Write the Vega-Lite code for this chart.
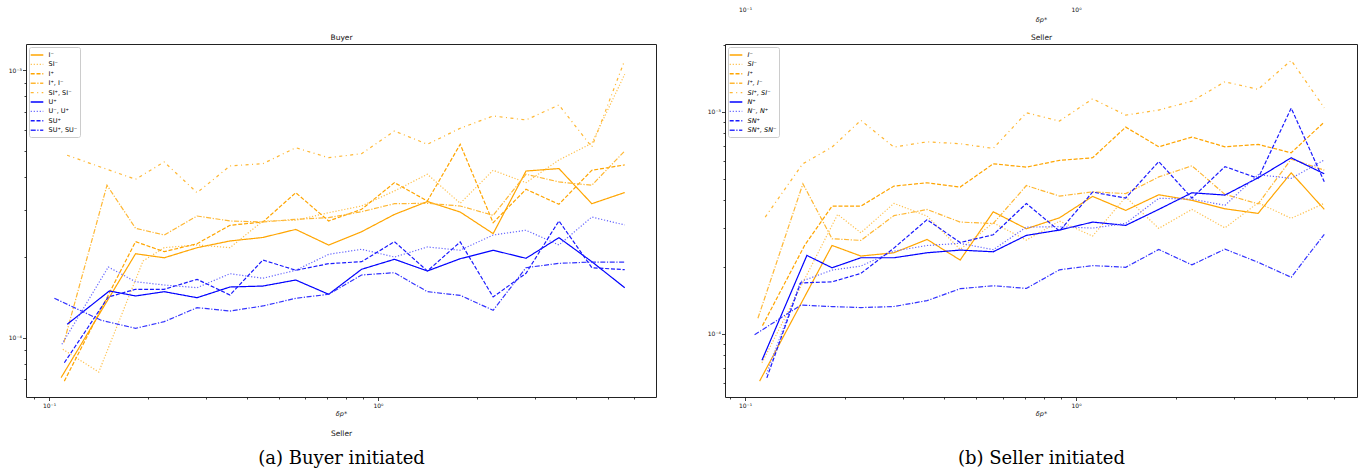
{
  "$schema": "https://vega.github.io/schema/vega-lite/v6.json",
  "background": "white",
  "padding": {"left": 7, "top": 5, "right": 0, "bottom": 0},
  "bounds": "flush",
  "spacing": 69,
  "datasets": {
    "buyer": [
      {"s":"I⁻","x":0.1088,"y":7.09e-5},{"s":"I⁻","x":0.1832,"y":2.06e-4},{"s":"I⁻","x":0.2239,"y":1.99e-4},{"s":"I⁻","x":0.2818,"y":2.17e-4},{"s":"I⁻","x":0.3548,"y":2.30e-4},{"s":"I⁻","x":0.4467,"y":2.37e-4},{"s":"I⁻","x":0.5623,"y":2.54e-4},{"s":"I⁻","x":0.7079,"y":2.22e-4},{"s":"I⁻","x":0.8913,"y":2.49e-4},{"s":"I⁻","x":1.122,"y":2.89e-4},{"s":"I⁻","x":1.413,"y":3.23e-4},{"s":"I⁻","x":1.778,"y":2.95e-4},{"s":"I⁻","x":2.239,"y":2.45e-4},{"s":"I⁻","x":2.818,"y":4.20e-4},{"s":"I⁻","x":3.548,"y":4.29e-4},{"s":"I⁻","x":4.467,"y":3.17e-4},{"s":"I⁻","x":5.623,"y":3.49e-4},
      {"s":"SI⁻","x":0.1101,"y":9.05e-5},{"s":"SI⁻","x":0.1416,"y":7.44e-5},{"s":"SI⁻","x":0.1931,"y":1.936e-4},{"s":"SI⁻","x":0.2239,"y":2.171e-4},{"s":"SI⁻","x":0.2818,"y":2.222e-4},{"s":"SI⁻","x":0.3548,"y":2.171e-4},{"s":"SI⁻","x":0.4467,"y":2.732e-4},{"s":"SI⁻","x":0.5623,"y":2.748e-4},{"s":"SI⁻","x":0.7079,"y":2.934e-4},{"s":"SI⁻","x":0.8913,"y":3.108e-4},{"s":"SI⁻","x":1.122,"y":3.537e-4},{"s":"SI⁻","x":1.413,"y":4.085e-4},{"s":"SI⁻","x":1.778,"y":3.181e-4},{"s":"SI⁻","x":2.239,"y":4.227e-4},{"s":"SI⁻","x":2.818,"y":3.8e-4},{"s":"SI⁻","x":3.548,"y":4.62e-4},{"s":"SI⁻","x":4.467,"y":5.333e-4},{"s":"SI⁻","x":5.623,"y":9.66e-4},
      {"s":"I⁺","x":0.1113,"y":6.88e-5},{"s":"I⁺","x":0.1832,"y":2.286e-4},{"s":"I⁺","x":0.2239,"y":2.097e-4},{"s":"I⁺","x":0.2818,"y":2.246e-4},{"s":"I⁺","x":0.3548,"y":2.632e-4},{"s":"I⁺","x":0.4467,"y":2.708e-4},{"s":"I⁺","x":0.5623,"y":3.485e-4},{"s":"I⁺","x":0.7079,"y":2.732e-4},{"s":"I⁺","x":0.8913,"y":3.02e-4},{"s":"I⁺","x":1.122,"y":3.8e-4},{"s":"I⁺","x":1.413,"y":3.245e-4},{"s":"I⁺","x":1.778,"y":5.288e-4},{"s":"I⁺","x":2.239,"y":2.692e-4},{"s":"I⁺","x":2.818,"y":3.589e-4},{"s":"I⁺","x":3.548,"y":3.155e-4},{"s":"I⁺","x":4.467,"y":4.227e-4},{"s":"I⁺","x":5.623,"y":4.426e-4},
      {"s":"I⁺, I⁻","x":0.1109,"y":9.58e-5},{"s":"I⁺, I⁻","x":0.15,"y":3.715e-4},{"s":"I⁺, I⁻","x":0.1832,"y":2.565e-4},{"s":"I⁺, I⁻","x":0.2239,"y":2.421e-4},{"s":"I⁺, I⁻","x":0.2818,"y":2.851e-4},{"s":"I⁺, I⁻","x":0.3548,"y":2.732e-4},{"s":"I⁺, I⁻","x":0.4467,"y":2.708e-4},{"s":"I⁺, I⁻","x":0.5623,"y":2.772e-4},{"s":"I⁺, I⁻","x":0.7079,"y":2.81e-4},{"s":"I⁺, I⁻","x":0.8913,"y":2.959e-4},{"s":"I⁺, I⁻","x":1.122,"y":3.17e-4},{"s":"I⁺, I⁻","x":1.413,"y":3.181e-4},{"s":"I⁺, I⁻","x":1.778,"y":3.108e-4},{"s":"I⁺, I⁻","x":2.239,"y":2.868e-4},{"s":"I⁺, I⁻","x":2.818,"y":4.085e-4},{"s":"I⁺, I⁻","x":3.548,"y":3.823e-4},{"s":"I⁺, I⁻","x":4.467,"y":3.715e-4},{"s":"I⁺, I⁻","x":5.623,"y":4.991e-4},
      {"s":"SI⁺, SI⁻","x":0.1135,"y":4.81e-4},{"s":"SI⁺, SI⁻","x":0.15,"y":4.264e-4},{"s":"SI⁺, SI⁻","x":0.1832,"y":3.912e-4},{"s":"SI⁺, SI⁻","x":0.2239,"y":4.541e-4},{"s":"SI⁺, SI⁻","x":0.2818,"y":3.485e-4},{"s":"SI⁺, SI⁻","x":0.3548,"y":4.387e-4},{"s":"SI⁺, SI⁻","x":0.4467,"y":4.474e-4},{"s":"SI⁺, SI⁻","x":0.5623,"y":5.134e-4},{"s":"SI⁺, SI⁻","x":0.7079,"y":4.711e-4},{"s":"SI⁺, SI⁻","x":0.8913,"y":4.877e-4},{"s":"SI⁺, SI⁻","x":1.122,"y":5.929e-4},{"s":"SI⁺, SI⁻","x":1.413,"y":5.288e-4},{"s":"SI⁺, SI⁻","x":1.778,"y":6.069e-4},{"s":"SI⁺, SI⁻","x":2.239,"y":6.748e-4},{"s":"SI⁺, SI⁻","x":2.818,"y":6.519e-4},{"s":"SI⁺, SI⁻","x":3.548,"y":7.417e-4},{"s":"SI⁺, SI⁻","x":4.467,"y":5.166e-4},{"s":"SI⁺, SI⁻","x":5.623,"y":1.09e-3},
      {"s":"U⁺","x":0.1135,"y":1.122e-4},{"s":"U⁺","x":0.1525,"y":1.495e-4},{"s":"U⁺","x":0.1832,"y":1.432e-4},{"s":"U⁺","x":0.2239,"y":1.486e-4},{"s":"U⁺","x":0.2818,"y":1.411e-4},{"s":"U⁺","x":0.3548,"y":1.547e-4},{"s":"U⁺","x":0.4467,"y":1.56e-4},{"s":"U⁺","x":0.5623,"y":1.643e-4},{"s":"U⁺","x":0.7079,"y":1.453e-4},{"s":"U⁺","x":0.8913,"y":1.802e-4},{"s":"U⁺","x":1.122,"y":1.964e-4},{"s":"U⁺","x":1.413,"y":1.776e-4},{"s":"U⁺","x":1.778,"y":1.974e-4},{"s":"U⁺","x":2.239,"y":2.123e-4},{"s":"U⁺","x":2.818,"y":1.981e-4},{"s":"U⁺","x":3.548,"y":2.366e-4},{"s":"U⁺","x":4.467,"y":1.924e-4},{"s":"U⁺","x":5.623,"y":1.538e-4},
      {"s":"U⁻, U⁺","x":0.1094,"y":9.45e-5},{"s":"U⁻, U⁺","x":0.1514,"y":1.838e-4},{"s":"U⁻, U⁺","x":0.1832,"y":1.619e-4},{"s":"U⁻, U⁺","x":0.2239,"y":1.574e-4},{"s":"U⁻, U⁺","x":0.2818,"y":1.538e-4},{"s":"U⁻, U⁺","x":0.3548,"y":1.735e-4},{"s":"U⁻, U⁺","x":0.4467,"y":1.668e-4},{"s":"U⁻, U⁺","x":0.5623,"y":1.787e-4},{"s":"U⁻, U⁺","x":0.7079,"y":2.05e-4},{"s":"U⁻, U⁺","x":0.8913,"y":2.141e-4},{"s":"U⁻, U⁺","x":1.122,"y":2.003e-4},{"s":"U⁻, U⁺","x":1.413,"y":2.184e-4},{"s":"U⁻, U⁺","x":1.778,"y":2.123e-4},{"s":"U⁻, U⁺","x":2.239,"y":2.421e-4},{"s":"U⁻, U⁺","x":2.818,"y":2.522e-4},{"s":"U⁻, U⁺","x":3.548,"y":2.222e-4},{"s":"U⁻, U⁺","x":4.467,"y":2.826e-4},{"s":"U⁻, U⁺","x":5.623,"y":2.64e-4},
      {"s":"SU⁺","x":0.1113,"y":8.06e-5},{"s":"SU⁺","x":0.1514,"y":1.42e-4},{"s":"SU⁺","x":0.1832,"y":1.517e-4},{"s":"SU⁺","x":0.2239,"y":1.517e-4},{"s":"SU⁺","x":0.2818,"y":1.653e-4},{"s":"SU⁺","x":0.3548,"y":1.444e-4},{"s":"SU⁺","x":0.4467,"y":1.952e-4},{"s":"SU⁺","x":0.5623,"y":1.787e-4},{"s":"SU⁺","x":0.7079,"y":1.891e-4},{"s":"SU⁺","x":0.8913,"y":1.924e-4},{"s":"SU⁺","x":1.122,"y":2.286e-4},{"s":"SU⁺","x":1.413,"y":1.776e-4},{"s":"SU⁺","x":1.778,"y":2.28e-4},{"s":"SU⁺","x":2.239,"y":1.42e-4},{"s":"SU⁺","x":2.818,"y":1.741e-4},{"s":"SU⁺","x":3.548,"y":2.732e-4},{"s":"SU⁺","x":4.467,"y":1.827e-4},{"s":"SU⁺","x":5.623,"y":1.796e-4},
      {"s":"SU⁺, SU⁻","x":0.1038,"y":1.404e-4},{"s":"SU⁺, SU⁻","x":0.1439,"y":1.162e-4},{"s":"SU⁺, SU⁻","x":0.1832,"y":1.084e-4},{"s":"SU⁺, SU⁻","x":0.2239,"y":1.148e-4},{"s":"SU⁺, SU⁻","x":0.2818,"y":1.295e-4},{"s":"SU⁺, SU⁻","x":0.3548,"y":1.258e-4},{"s":"SU⁺, SU⁻","x":0.4467,"y":1.314e-4},{"s":"SU⁺, SU⁻","x":0.5623,"y":1.404e-4},{"s":"SU⁺, SU⁻","x":0.7079,"y":1.453e-4},{"s":"SU⁺, SU⁻","x":0.8913,"y":1.716e-4},{"s":"SU⁺, SU⁻","x":1.122,"y":1.75e-4},{"s":"SU⁺, SU⁻","x":1.413,"y":1.486e-4},{"s":"SU⁺, SU⁻","x":1.778,"y":1.44e-4},{"s":"SU⁺, SU⁻","x":2.239,"y":1.266e-4},{"s":"SU⁺, SU⁻","x":2.818,"y":1.827e-4},{"s":"SU⁺, SU⁻","x":3.548,"y":1.897e-4},{"s":"SU⁺, SU⁻","x":4.467,"y":1.918e-4},{"s":"SU⁺, SU⁻","x":5.623,"y":1.918e-4}
    ],
    "seller": [
      {"s":"I⁻","x":0.1107,"y":6.12e-5},{"s":"I⁻","x":0.1832,"y":2.50e-4},{"s":"I⁻","x":0.2239,"y":2.239e-4},{"s":"I⁻","x":0.2818,"y":2.317e-4},{"s":"I⁻","x":0.3548,"y":2.661e-4},{"s":"I⁻","x":0.4467,"y":2.148e-4},{"s":"I⁻","x":0.5623,"y":3.544e-4},{"s":"I⁻","x":0.7079,"y":2.972e-4},{"s":"I⁻","x":0.8913,"y":3.33e-4},{"s":"I⁻","x":1.122,"y":4.159e-4},{"s":"I⁻","x":1.413,"y":3.596e-4},{"s":"I⁻","x":1.778,"y":4.228e-4},{"s":"I⁻","x":2.239,"y":3.99e-4},{"s":"I⁻","x":2.818,"y":3.656e-4},{"s":"I⁻","x":3.548,"y":3.485e-4},{"s":"I⁻","x":4.467,"y":5.31e-4},{"s":"I⁻","x":5.623,"y":3.634e-4},
      {"s":"SI⁻","x":0.1125,"y":7.40e-5},{"s":"SI⁻","x":0.1905,"y":3.45e-4},{"s":"SI⁻","x":0.2239,"y":2.851e-4},{"s":"SI⁻","x":0.2818,"y":3.868e-4},{"s":"SI⁻","x":0.3548,"y":3.39e-4},{"s":"SI⁻","x":0.4467,"y":2.40e-4},{"s":"SI⁻","x":0.5623,"y":3.162e-4},{"s":"SI⁻","x":0.7079,"y":2.642e-4},{"s":"SI⁻","x":0.8913,"y":3.219e-4},{"s":"SI⁻","x":1.122,"y":2.755e-4},{"s":"SI⁻","x":1.413,"y":4.129e-4},{"s":"SI⁻","x":1.778,"y":2.984e-4},{"s":"SI⁻","x":2.239,"y":3.634e-4},{"s":"SI⁻","x":2.818,"y":3.0e-4},{"s":"SI⁻","x":3.548,"y":3.892e-4},{"s":"SI⁻","x":4.467,"y":3.31e-4},{"s":"SI⁻","x":5.623,"y":3.868e-4},
      {"s":"I⁺","x":0.1129,"y":1.088e-4},{"s":"I⁺","x":0.1517,"y":2.515e-4},{"s":"I⁺","x":0.1832,"y":3.759e-4},{"s":"I⁺","x":0.2239,"y":3.759e-4},{"s":"I⁺","x":0.2818,"y":4.627e-4},{"s":"I⁺","x":0.3548,"y":4.789e-4},{"s":"I⁺","x":0.4467,"y":4.58e-4},{"s":"I⁺","x":0.5623,"y":5.83e-4},{"s":"I⁺","x":0.7079,"y":5.634e-4},{"s":"I⁺","x":0.8913,"y":6.04e-4},{"s":"I⁺","x":1.122,"y":6.205e-4},{"s":"I⁺","x":1.413,"y":8.53e-4},{"s":"I⁺","x":1.778,"y":6.955e-4},{"s":"I⁺","x":2.239,"y":7.69e-4},{"s":"I⁺","x":2.818,"y":6.955e-4},{"s":"I⁺","x":3.548,"y":7.13e-4},{"s":"I⁺","x":4.467,"y":6.535e-4},{"s":"I⁺","x":5.623,"y":8.99e-4},
      {"s":"I⁺, I⁻","x":0.1094,"y":1.174e-4},{"s":"I⁺, I⁻","x":0.1496,"y":4.74e-4},{"s":"I⁺, I⁻","x":0.1832,"y":2.679e-4},{"s":"I⁺, I⁻","x":0.2239,"y":2.634e-4},{"s":"I⁺, I⁻","x":0.2818,"y":3.406e-4},{"s":"I⁺, I⁻","x":0.3548,"y":3.63e-4},{"s":"I⁺, I⁻","x":0.4467,"y":3.185e-4},{"s":"I⁺, I⁻","x":0.5623,"y":3.139e-4},{"s":"I⁺, I⁻","x":0.7079,"y":4.652e-4},{"s":"I⁺, I⁻","x":0.8913,"y":4.172e-4},{"s":"I⁺, I⁻","x":1.122,"y":4.357e-4},{"s":"I⁺, I⁻","x":1.413,"y":4.281e-4},{"s":"I⁺, I⁻","x":1.778,"y":5.088e-4},{"s":"I⁺, I⁻","x":2.239,"y":5.711e-4},{"s":"I⁺, I⁻","x":2.818,"y":4.246e-4},{"s":"I⁺, I⁻","x":3.548,"y":3.847e-4},{"s":"I⁺, I⁻","x":4.467,"y":6.12e-4},{"s":"I⁺, I⁻","x":5.623,"y":5.46e-4},
      {"s":"SI⁺, SI⁻","x":0.1151,"y":3.355e-4},{"s":"SI⁺, SI⁻","x":0.1494,"y":5.83e-4},{"s":"SI⁺, SI⁻","x":0.1832,"y":6.93e-4},{"s":"SI⁺, SI⁻","x":0.2239,"y":9.15e-4},{"s":"SI⁺, SI⁻","x":0.2818,"y":6.93e-4},{"s":"SI⁺, SI⁻","x":0.3548,"y":7.32e-4},{"s":"SI⁺, SI⁻","x":0.4467,"y":7.18e-4},{"s":"SI⁺, SI⁻","x":0.5623,"y":6.84e-4},{"s":"SI⁺, SI⁻","x":0.7079,"y":9.9e-4},{"s":"SI⁺, SI⁻","x":0.8913,"y":9.08e-4},{"s":"SI⁺, SI⁻","x":1.122,"y":1.144e-3},{"s":"SI⁺, SI⁻","x":1.413,"y":9.66e-4},{"s":"SI⁺, SI⁻","x":1.778,"y":1.018e-3},{"s":"SI⁺, SI⁻","x":2.239,"y":1.117e-3},{"s":"SI⁺, SI⁻","x":2.818,"y":1.365e-3},{"s":"SI⁺, SI⁻","x":3.548,"y":1.262e-3},{"s":"SI⁺, SI⁻","x":4.467,"y":1.704e-3},{"s":"SI⁺, SI⁻","x":5.623,"y":1.042e-3},
      {"s":"N⁺","x":0.1125,"y":7.59e-5},{"s":"N⁺","x":0.1538,"y":2.254e-4},{"s":"N⁺","x":0.1832,"y":1.983e-4},{"s":"N⁺","x":0.2239,"y":2.2e-4},{"s":"N⁺","x":0.2818,"y":2.2e-4},{"s":"N⁺","x":0.3548,"y":2.317e-4},{"s":"N⁺","x":0.4467,"y":2.382e-4},{"s":"N⁺","x":0.5623,"y":2.341e-4},{"s":"N⁺","x":0.7079,"y":2.775e-4},{"s":"N⁺","x":0.8913,"y":2.932e-4},{"s":"N⁺","x":1.122,"y":3.185e-4},{"s":"N⁺","x":1.413,"y":3.078e-4},{"s":"N⁺","x":1.778,"y":3.634e-4},{"s":"N⁺","x":2.239,"y":4.316e-4},{"s":"N⁺","x":2.818,"y":4.215e-4},{"s":"N⁺","x":3.548,"y":5.041e-4},{"s":"N⁺","x":4.467,"y":6.205e-4},{"s":"N⁺","x":5.623,"y":5.256e-4},
      {"s":"N⁻, N⁺","x":0.1161,"y":6.58e-5},{"s":"N⁻, N⁺","x":0.1472,"y":1.718e-4},{"s":"N⁻, N⁺","x":0.1832,"y":1.936e-4},{"s":"N⁻, N⁺","x":0.2239,"y":2.018e-4},{"s":"N⁻, N⁺","x":0.2818,"y":2.358e-4},{"s":"N⁻, N⁺","x":0.3548,"y":2.498e-4},{"s":"N⁻, N⁺","x":0.4467,"y":2.556e-4},{"s":"N⁻, N⁺","x":0.5623,"y":2.392e-4},{"s":"N⁻, N⁺","x":0.7079,"y":3.023e-4},{"s":"N⁻, N⁺","x":0.8913,"y":3.036e-4},{"s":"N⁻, N⁺","x":1.122,"y":2.992e-4},{"s":"N⁻, N⁺","x":1.413,"y":3.143e-4},{"s":"N⁻, N⁺","x":1.778,"y":4.077e-4},{"s":"N⁻, N⁺","x":2.239,"y":4.043e-4},{"s":"N⁻, N⁺","x":2.818,"y":3.79e-4},{"s":"N⁻, N⁺","x":3.548,"y":5.207e-4},{"s":"N⁻, N⁺","x":4.467,"y":5.012e-4},{"s":"N⁻, N⁺","x":5.623,"y":6.066e-4},
      {"s":"SN⁺","x":0.1164,"y":6.33e-5},{"s":"SN⁺","x":0.1472,"y":1.694e-4},{"s":"SN⁺","x":0.1832,"y":1.714e-4},{"s":"SN⁺","x":0.2239,"y":1.87e-4},{"s":"SN⁺","x":0.2818,"y":2.432e-4},{"s":"SN⁺","x":0.3548,"y":3.266e-4},{"s":"SN⁺","x":0.4467,"y":2.577e-4},{"s":"SN⁺","x":0.5623,"y":2.792e-4},{"s":"SN⁺","x":0.7079,"y":3.863e-4},{"s":"SN⁺","x":0.8913,"y":2.902e-4},{"s":"SN⁺","x":1.122,"y":4.348e-4},{"s":"SN⁺","x":1.413,"y":4.086e-4},{"s":"SN⁺","x":1.778,"y":5.967e-4},{"s":"SN⁺","x":2.239,"y":4.086e-4},{"s":"SN⁺","x":2.818,"y":5.664e-4},{"s":"SN⁺","x":3.548,"y":5.012e-4},{"s":"SN⁺","x":4.467,"y":1.039e-3},{"s":"SN⁺","x":5.623,"y":4.837e-4},
      {"s":"SN⁺, SN⁻","x":0.1069,"y":9.9e-5},{"s":"SN⁺, SN⁻","x":0.1476,"y":1.347e-4},{"s":"SN⁺, SN⁻","x":0.1832,"y":1.326e-4},{"s":"SN⁺, SN⁻","x":0.2239,"y":1.312e-4},{"s":"SN⁺, SN⁻","x":0.2818,"y":1.327e-4},{"s":"SN⁺, SN⁻","x":0.3548,"y":1.41e-4},{"s":"SN⁺, SN⁻","x":0.4467,"y":1.596e-4},{"s":"SN⁺, SN⁻","x":0.5623,"y":1.646e-4},{"s":"SN⁺, SN⁻","x":0.7079,"y":1.601e-4},{"s":"SN⁺, SN⁻","x":0.8913,"y":1.942e-4},{"s":"SN⁺, SN⁻","x":1.122,"y":2.028e-4},{"s":"SN⁺, SN⁻","x":1.413,"y":1.993e-4},{"s":"SN⁺, SN⁻","x":1.778,"y":2.398e-4},{"s":"SN⁺, SN⁻","x":2.239,"y":2.043e-4},{"s":"SN⁺, SN⁻","x":2.818,"y":2.406e-4},{"s":"SN⁺, SN⁻","x":3.548,"y":2.099e-4},{"s":"SN⁺, SN⁻","x":4.467,"y":1.797e-4},{"s":"SN⁺, SN⁻","x":5.623,"y":2.807e-4}
    ]
  },
  "hconcat": [
    {
      "width": 630,
      "height": 353,
      "data": {"name": "buyer"},
      "layer": [
        {
          "mark": {"type": "line", "clip": true, "strokeWidth": 1.2},
          "encoding": {
            "x": {"field": "x", "type": "quantitative",
              "scale": {"type": "log", "domain": [0.0851, 7.0], "nice": false},
              "axis": {"orient": "bottom", "values": [0.09, 0.1, 0.2, 0.3, 0.4, 0.5, 0.6, 0.7, 0.8, 0.9, 1, 2, 3, 4, 5, 6],
                "labelExpr": "datum.value == 0.1 ? '10⁻¹' : datum.value == 1 ? '10⁰' : ''",
                "tickSize": {"condition": {"test": "datum.value == 0.1 || datum.value == 1", "value": 3.5}, "value": 2},
                "labelOverlap": false, "labelPadding": 1.5,
                "title": "δp*", "titleY": 16, "titleBaseline": "middle", "titleFontStyle": "italic"}},
            "y": {"field": "y", "type": "quantitative",
              "scale": {"type": "log", "domain": [6.0e-5, 1.254e-3], "nice": false},
              "axis": {"values": [7e-5, 8e-5, 9e-5, 1e-4, 2e-4, 3e-4, 4e-4, 5e-4, 6e-4, 7e-4, 8e-4, 9e-4, 1e-3],
                "labelExpr": "datum.value == 0.001 ? '10⁻³' : datum.value == 0.0001 ? '10⁻⁴' : ''",
                "tickSize": {"condition": {"test": "datum.value == 0.001 || datum.value == 0.0001", "value": 3.5}, "value": 2},
                "labelOverlap": false, "labelPadding": 1, "title": null}},
            "color": {"field": "s", "type": "nominal",
              "scale": {"domain": ["I⁻", "SI⁻", "I⁺", "I⁺, I⁻", "SI⁺, SI⁻", "U⁺", "U⁻, U⁺", "SU⁺", "SU⁺, SU⁻"],
                "range": ["#FFA500", "#FFC04D", "#FFA500", "#FFB733", "#FFB733", "#0000FF", "#6666FF", "#1A1AFF", "#3333FF"]},
              "legend": {"title": null, "orient": "top-left", "offset": 3, "symbolType": "M-1.4,0L1.4,0", "symbolSize": 81, "symbolStrokeWidth": 1.4, "symbolFillColor": "transparent", "labelFontSize": 6.5, "labelFont": "DejaVu Sans", "rowPadding": 0.4, "padding": 2.5, "strokeColor": "#cccccc", "fillColor": "white", "cornerRadius": 2, "labelOffset": 6}},
            "strokeDash": {"field": "s", "type": "nominal",
              "scale": {"domain": ["I⁻", "SI⁻", "I⁺", "I⁺, I⁻", "SI⁺, SI⁻", "U⁺", "U⁻, U⁺", "SU⁺", "SU⁺, SU⁻"],
                "range": [[1, 0], [1.2, 1.8], [4, 1.8], [5, 1.6, 1.2, 1.6], [3, 3.5, 1, 3.5], [1, 0], [1.2, 1.8], [4, 1.8], [5, 1.6, 1.2, 1.6]]},
              "legend": {"title": null, "orient": "top-left", "offset": 3, "symbolType": "M-1.4,0L1.4,0", "symbolSize": 81, "symbolStrokeWidth": 1.4, "symbolFillColor": "transparent", "labelFontSize": 6.5, "labelFont": "DejaVu Sans", "rowPadding": 0.4, "padding": 2.5, "strokeColor": "#cccccc", "fillColor": "white", "cornerRadius": 2, "labelOffset": 6}}
          }
        },
        {
          "mark": {"type": "point", "opacity": 0},
          "encoding": {
            "x": {"field": "x", "type": "quantitative",
              "scale": {"type": "log", "domain": [0.0851, 7.0], "nice": false},
              "axis": {"orient": "top", "labels": false, "ticks": false, "domain": false, "title": "Buyer", "titleY": -2.5, "titleBaseline": "bottom", "titleFontSize": 7.5}}
          }
        },
        {
          "mark": {"type": "point", "opacity": 0},
          "encoding": {
            "x": {"field": "x", "type": "quantitative",
              "scale": {"type": "log", "domain": [0.0851, 7.0], "nice": false},
              "axis": {"orient": "bottom", "labels": false, "ticks": false, "domain": false, "title": "Seller", "titleY": 36, "titleBaseline": "middle", "titleFontSize": 7.5}}
          }
        },
        {
          "mark": {"type": "point", "opacity": 0},
          "encoding": {
            "x": {"field": "x", "type": "quantitative",
              "scale": {"type": "log", "domain": [0.0851, 7.0], "nice": false},
              "axis": {"orient": "bottom", "labels": false, "ticks": false, "domain": false, "title": "(a) Buyer initiated", "titleY": 61, "titleBaseline": "middle", "titleFont": "DejaVu Serif", "titleFontSize": 18, "titleColor": "#000"}}
          }
        }
      ],
      "resolve": {"axis": {"x": "independent"}}
    },
    {
      "width": 632,
      "height": 353,
      "data": {"name": "seller"},
      "layer": [
        {
          "mark": {"type": "line", "clip": true, "strokeWidth": 1.2},
          "encoding": {
            "x": {"field": "x", "type": "quantitative",
              "scale": {"type": "log", "domain": [0.08701, 7.06], "nice": false},
              "axis": {"orient": "bottom", "values": [0.09, 0.1, 0.2, 0.3, 0.4, 0.5, 0.6, 0.7, 0.8, 0.9, 1, 2, 3, 4, 5, 6],
                "labelExpr": "datum.value == 0.1 ? '10⁻¹' : datum.value == 1 ? '10⁰' : ''",
                "tickSize": {"condition": {"test": "datum.value == 0.1 || datum.value == 1", "value": 3.5}, "value": 2},
                "labelOverlap": false, "labelPadding": 1.5,
                "title": "δp*", "titleY": 16, "titleBaseline": "middle", "titleFontStyle": "italic"}},
            "y": {"field": "y", "type": "quantitative",
              "scale": {"type": "log", "domain": [5.19e-5, 2.02e-3], "nice": false},
              "axis": {"values": [6e-5, 7e-5, 8e-5, 9e-5, 1e-4, 2e-4, 3e-4, 4e-4, 5e-4, 6e-4, 7e-4, 8e-4, 9e-4, 1e-3, 2e-3],
                "labelExpr": "datum.value == 0.001 ? '10⁻³' : datum.value == 0.0001 ? '10⁻⁴' : ''",
                "tickSize": {"condition": {"test": "datum.value == 0.001 || datum.value == 0.0001", "value": 3.5}, "value": 2},
                "labelOverlap": false, "labelPadding": 1, "title": null}},
            "color": {"field": "s", "type": "nominal",
              "scale": {"domain": ["I⁻", "SI⁻", "I⁺", "I⁺, I⁻", "SI⁺, SI⁻", "N⁺", "N⁻, N⁺", "SN⁺", "SN⁺, SN⁻"],
                "range": ["#FFA500", "#FFC04D", "#FFA500", "#FFB733", "#FFB733", "#0000FF", "#6666FF", "#1A1AFF", "#3333FF"]},
              "legend": {"title": null, "orient": "top-left", "offset": 3, "symbolType": "M-1.4,0L1.4,0", "symbolSize": 81, "symbolStrokeWidth": 1.4, "symbolFillColor": "transparent", "labelFontSize": 6.5, "labelFont": "DejaVu Sans", "labelFontStyle": "italic", "rowPadding": 0.4, "padding": 2.5, "strokeColor": "#cccccc", "fillColor": "white", "cornerRadius": 2, "labelOffset": 6}},
            "strokeDash": {"field": "s", "type": "nominal",
              "scale": {"domain": ["I⁻", "SI⁻", "I⁺", "I⁺, I⁻", "SI⁺, SI⁻", "N⁺", "N⁻, N⁺", "SN⁺", "SN⁺, SN⁻"],
                "range": [[1, 0], [1.2, 1.8], [4, 1.8], [5, 1.6, 1.2, 1.6], [3, 3.5, 1, 3.5], [1, 0], [1.2, 1.8], [4, 1.8], [5, 1.6, 1.2, 1.6]]},
              "legend": {"title": null, "orient": "top-left", "offset": 3, "symbolType": "M-1.4,0L1.4,0", "symbolSize": 81, "symbolStrokeWidth": 1.4, "symbolFillColor": "transparent", "labelFontSize": 6.5, "labelFont": "DejaVu Sans", "labelFontStyle": "italic", "rowPadding": 0.4, "padding": 2.5, "strokeColor": "#cccccc", "fillColor": "white", "cornerRadius": 2, "labelOffset": 6}}
          }
        },
        {
          "mark": {"type": "point", "opacity": 0},
          "encoding": {
            "x": {"field": "x", "type": "quantitative",
              "scale": {"type": "log", "domain": [0.08701, 7.06], "nice": false},
              "axis": {"orient": "top", "values": [0.1, 1], "labelExpr": "datum.value == 0.1 ? '10⁻¹' : '10⁰'", "ticks": false, "domain": false, "labelPadding": 32, "labelOverlap": false,
                "title": "δp*", "titleY": -25, "titleBaseline": "middle", "titleFontStyle": "italic"}}
          }
        },
        {
          "mark": {"type": "point", "opacity": 0},
          "encoding": {
            "x": {"field": "x", "type": "quantitative",
              "scale": {"type": "log", "domain": [0.08701, 7.06], "nice": false},
              "axis": {"orient": "top", "labels": false, "ticks": false, "domain": false, "title": "Seller", "titleY": -2.5, "titleBaseline": "bottom", "titleFontSize": 7.5}}
          }
        },
        {
          "mark": {"type": "point", "opacity": 0},
          "encoding": {
            "x": {"field": "x", "type": "quantitative",
              "scale": {"type": "log", "domain": [0.08701, 7.06], "nice": false},
              "axis": {"orient": "bottom", "labels": false, "ticks": false, "domain": false, "title": "(b) Seller initiated", "titleY": 61, "titleBaseline": "middle", "titleFont": "DejaVu Serif", "titleFontSize": 18, "titleColor": "#000"}}
          }
        }
      ],
      "resolve": {"axis": {"x": "independent"}}
    }
  ],
  "resolve": {"scale": {"color": "independent", "strokeDash": "independent", "x": "independent", "y": "independent"}},
  "config": {
    "view": {"stroke": "#222222", "strokeWidth": 1},
    "font": "DejaVu Sans",
    "axis": {"labelFont": "DejaVu Sans", "labelFontSize": 6, "labelColor": "#111111", "tickColor": "#111111", "tickWidth": 0.8, "domain": false, "grid": false, "titleFont": "DejaVu Sans", "titleFontSize": 6.5, "titleFontWeight": "normal", "titleColor": "#111111"}
  }
}
